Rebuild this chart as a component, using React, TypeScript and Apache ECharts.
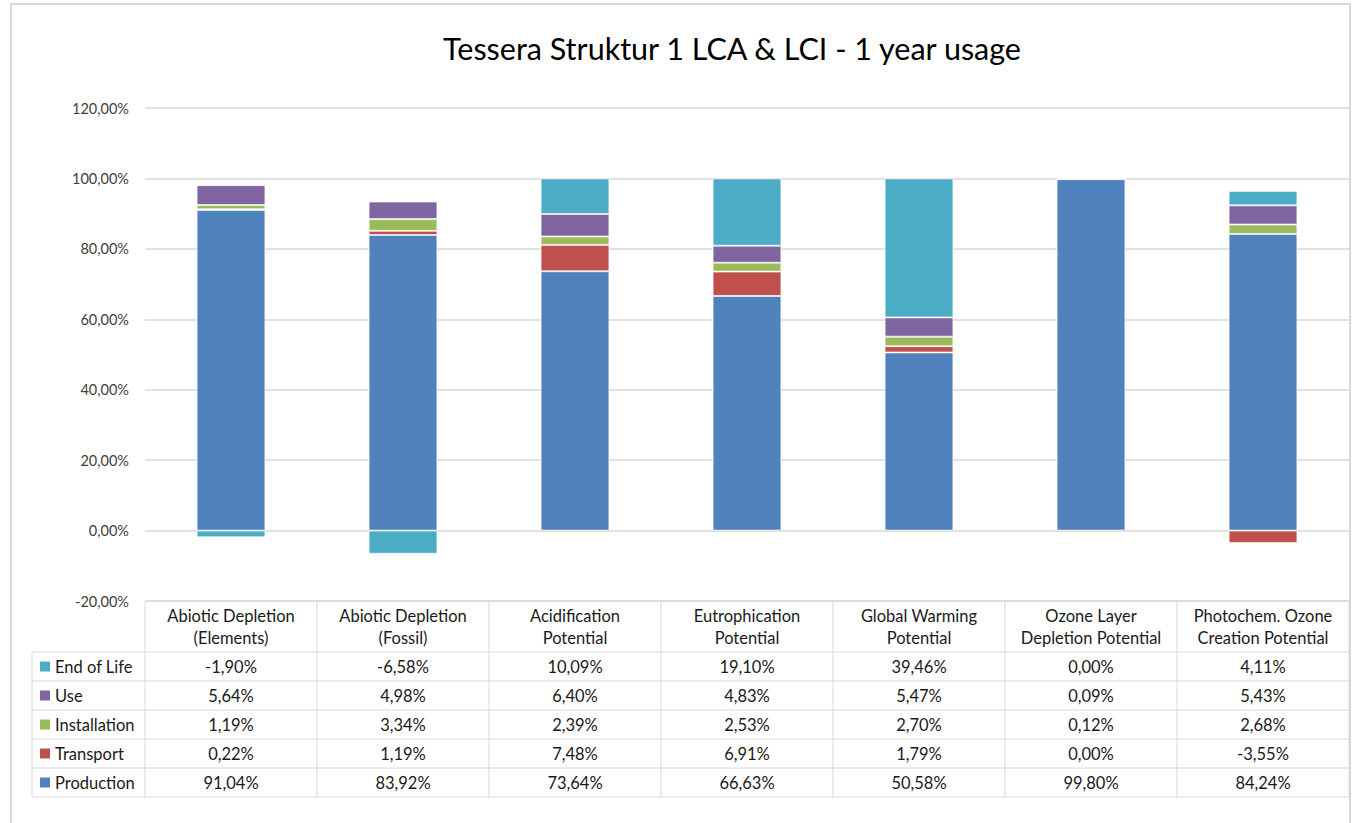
import React, { useEffect, useRef } from "react";
import * as echarts from "echarts";

const categories = [
  ["Abiotic Depletion", "(Elements)"],
  ["Abiotic Depletion", "(Fossil)"],
  ["Acidification", "Potential"],
  ["Eutrophication", "Potential"],
  ["Global Warming", "Potential"],
  ["Ozone Layer", "Depletion Potential"],
  ["Photochem. Ozone", "Creation Potential"],
];
const production = [91.04, 83.92, 73.64, 66.63, 50.58, 99.8, 84.24];
const transport = [0.22, 1.19, 7.48, 6.91, 1.79, 0.0, -3.55];
const installation = [1.19, 3.34, 2.39, 2.53, 2.7, 0.12, 2.68];
const use = [5.64, 4.98, 6.4, 4.83, 5.47, 0.09, 5.43];
const endOfLife = [-1.9, -6.58, 10.09, 19.1, 39.46, 0.0, 4.11];

const seriesDefs = [
  { name: "Production", data: production, color: "#4F81BD" },
  { name: "Transport", data: transport, color: "#C0504D" },
  { name: "Installation", data: installation, color: "#9BBB59" },
  { name: "Use", data: use, color: "#8064A2" },
  { name: "End of Life", data: endOfLife, color: "#4BACC6" },
];

const FONT = "Lato, 'Open Sans', sans-serif";
const fmt = (v: number, d: number) => v.toFixed(d).replace(".", ",") + "%";

export default function App() {
  const ref = useRef<HTMLDivElement>(null);
  useEffect(() => {
    if (!ref.current) return;
    const chart = echarts.init(ref.current, undefined, { renderer: "svg" });

    const gridLeft = 145;
    const gridRight = 1349;
    const gridTop = 108;
    const gridBottomY = 601;
    const colW = (gridRight - gridLeft) / categories.length;
    const legendLeft = 32;
    const headerBottom = 652;
    const rowH = 29;
    const tableRows = [...seriesDefs].reverse();
    const tableBottom = headerBottom + rowH * tableRows.length;
    const lineColor = "#D9D9D9";
    const textColor = "#1a1a1a";
    const tableFont = `16.5px ${FONT}`;

    const graphics: any[] = [];
    graphics.push({
      type: "rect",
      shape: { x: 11, y: 4, width: 1339, height: 840 },
      style: { fill: "none", stroke: lineColor, lineWidth: 2 },
      silent: true,
    });
    graphics.push({
      type: "line",
      shape: { x1: gridLeft, y1: gridBottomY, x2: gridRight, y2: gridBottomY },
      style: { stroke: lineColor, lineWidth: 1 },
    });
    for (let i = 0; i <= tableRows.length; i++) {
      const y = headerBottom + i * rowH;
      graphics.push({
        type: "line",
        shape: { x1: legendLeft, y1: y, x2: gridRight, y2: y },
        style: { stroke: lineColor, lineWidth: 1 },
      });
    }
    graphics.push({
      type: "line",
      shape: { x1: legendLeft, y1: headerBottom, x2: legendLeft, y2: tableBottom },
      style: { stroke: lineColor, lineWidth: 1 },
    });
    for (let j = 0; j <= categories.length; j++) {
      const x = gridLeft + j * colW;
      graphics.push({
        type: "line",
        shape: { x1: x, y1: gridBottomY, x2: x, y2: tableBottom },
        style: { stroke: lineColor, lineWidth: 1 },
      });
    }
    categories.forEach((c, j) => {
      const cx = gridLeft + (j + 0.5) * colW;
      c.forEach((line, k) => {
        graphics.push({
          type: "text",
          x: cx,
          y: 616 + k * 22,
          style: {
            text: line,
            font: tableFont,
            fill: textColor,
            textAlign: "center",
            textVerticalAlign: "middle",
          },
        });
      });
    });
    tableRows.forEach((s, i) => {
      const cy = headerBottom + (i + 0.5) * rowH;
      graphics.push({
        type: "rect",
        shape: { x: 40, y: cy - 5, width: 10, height: 10 },
        style: { fill: s.color },
      });
      graphics.push({
        type: "text",
        x: 55,
        y: cy,
        style: {
          text: s.name,
          font: tableFont,
          fill: textColor,
          textAlign: "left",
          textVerticalAlign: "middle",
        },
      });
      s.data.forEach((v, j) => {
        graphics.push({
          type: "text",
          x: gridLeft + (j + 0.5) * colW,
          y: cy,
          style: {
            text: fmt(v, 2),
            font: tableFont,
            fill: textColor,
            textAlign: "center",
            textVerticalAlign: "middle",
          },
        });
      });
    });

    chart.setOption({
      animation: false,
      backgroundColor: "#fff",
      title: {
        text: "Tessera Struktur 1 LCA & LCI - 1 year usage",
        left: 727,
        top: 27,
        textAlign: "center",
        textStyle: { fontFamily: FONT, fontSize: 30.5, fontWeight: "normal", color: "#000" },
      },
      grid: {
        left: gridLeft,
        right: 1361 - gridRight,
        top: gridTop,
        bottom: 823 - gridBottomY,
        containLabel: false,
      },
      xAxis: {
        type: "category",
        data: categories.map((c) => c.join(" ")),
        axisLine: { show: false },
        axisTick: { show: false },
        axisLabel: { show: false },
        splitLine: { show: false },
      },
      yAxis: {
        type: "value",
        min: -20,
        max: 120,
        interval: 20,
        axisLine: { show: false },
        axisTick: { show: false },
        axisLabel: {
          formatter: (v: number) => fmt(v, 2),
          fontFamily: FONT,
          fontSize: 14.5,
          color: "#404040",
          margin: 16,
        },
        splitLine: { lineStyle: { color: lineColor, width: 1.5 } },
      },
      series: seriesDefs.map((s) => ({
        name: s.name,
        type: "bar",
        stack: "total",
        barWidth: "40%",
        data: s.data,
        itemStyle: { color: s.color, borderColor: "rgba(255,255,255,0.6)", borderWidth: 1 },
      })),
      graphic: graphics,
    });
    return () => chart.dispose();
  }, []);
  return (
    <div
      ref={ref}
      style={{ position: "absolute", left: 0, top: 0, width: 1361, height: 823 }}
    />
  );
}
